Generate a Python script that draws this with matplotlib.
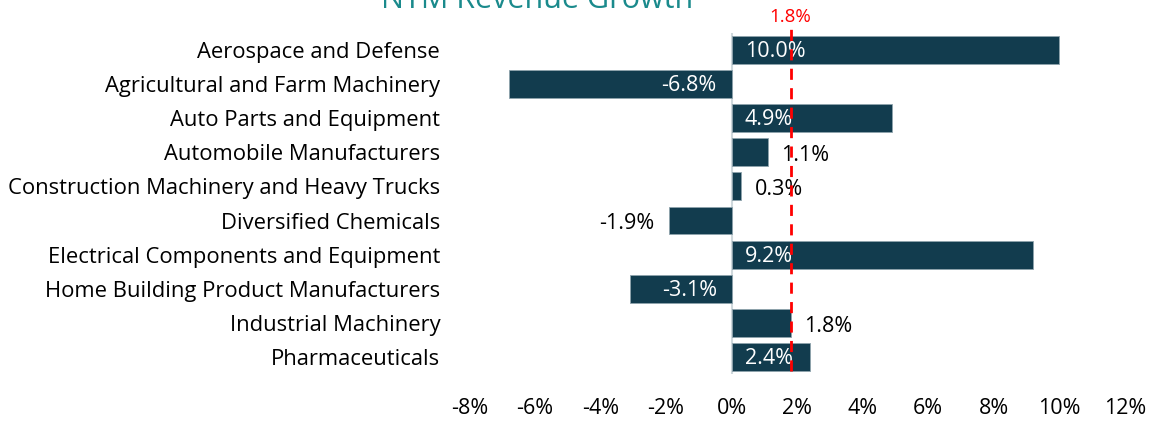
import matplotlib.pyplot as plt

plt.rcParams['font.family'] = ['Open Sans', 'DejaVu Sans']

categories = [
    'Aerospace and Defense',
    'Agricultural and Farm Machinery',
    'Auto Parts and Equipment',
    'Automobile Manufacturers',
    'Construction Machinery and Heavy Trucks',
    'Diversified Chemicals',
    'Electrical Components and Equipment',
    'Home Building Product Manufacturers',
    'Industrial Machinery',
    'Pharmaceuticals',
]
growth = [10.0, -6.8, 4.9, 1.1, 0.3, -1.9, 9.2, -3.1, 1.8, 2.4]
median_growth = 1.8
ticks = [-8, -6, -4, -2, 0, 2, 4, 6, 8, 10, 12]

bar_color = '#123c4e'

fig = plt.figure(figsize=(11.56, 4.23), dpi=100)
ax = fig.add_axes([0.406, 0.116, 0.567, 0.806])

y = list(range(len(categories)))
ax.barh(y, growth, height=0.82, color=bar_color, edgecolor='#8fa3ad', linewidth=0.6)

for i, v in enumerate(growth):
    txt = f'{v:.1f}%'
    if abs(v) >= 2.4:
        # label inside the bar, near zero
        if v > 0:
            ax.text(0.4, i + 0.05, txt, color='white', ha='left', va='center', fontsize=15.5)
        else:
            ax.text(-0.45, i + 0.05, txt, color='white', ha='right', va='center', fontsize=15.5)
    else:
        if v > 0:
            ax.text(v + 0.42, i + 0.1, txt, color='black', ha='left', va='center', fontsize=15.5)
        else:
            ax.text(v - 0.45, i + 0.1, txt, color='black', ha='right', va='center', fontsize=15.5)

ax.axvline(0, color='#cfd8dc', linewidth=1.5, zorder=0)
ax.plot([median_growth, median_growth], [9.4, -0.65], color='red', linestyle=(0, (4, 3)),
        linewidth=2, clip_on=False, zorder=3)
ax.text(median_growth, -0.97, f'{median_growth}%', color='red', ha='center', va='center', fontsize=13.5)

ax.set_xlim(-8, 12)
ax.set_ylim(len(categories) - 0.5, -0.5)
ax.set_yticks(y)
ax.set_yticklabels(categories, fontsize=15.8)
ax.set_xticks(ticks)
ax.set_xticklabels([f'{t}%' for t in ticks], fontsize=15.5)
ax.tick_params(axis='both', length=0)
ax.tick_params(axis='x', pad=17)
ax.tick_params(axis='y', pad=21)
for s in ax.spines.values():
    s.set_visible(False)

fig.text(0.465, 1.0, 'NTM Revenue Growth', color='#1a8a8c', fontsize=22, ha='center', va='center')

fig.savefig('out.png', dpi=100)
